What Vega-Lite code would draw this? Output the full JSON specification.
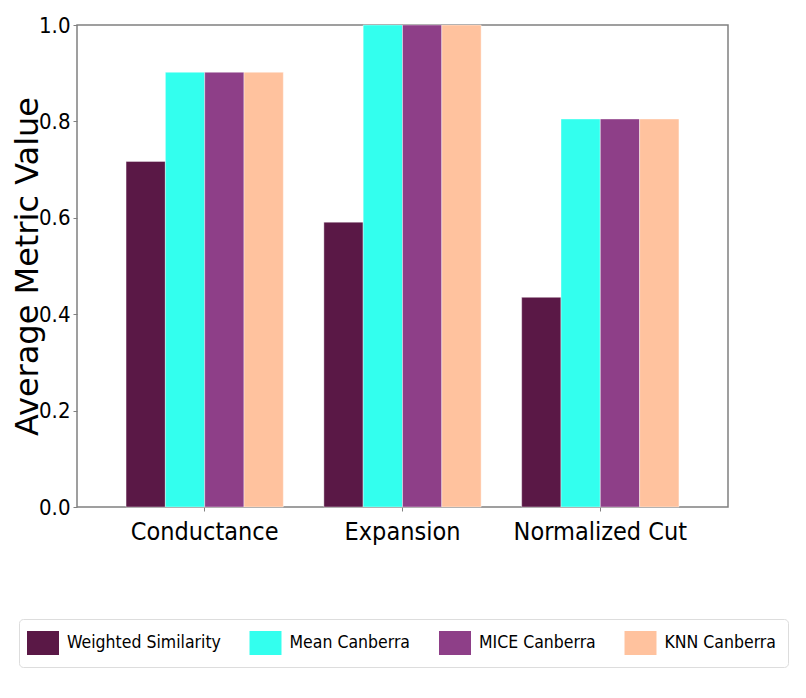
{
  "$schema": "https://vega.github.io/schema/vega-lite/v6.json",
  "autosize": {"type": "none"},
  "padding": {"left": 77, "top": 25, "right": 78, "bottom": 191},
  "width": 651,
  "height": 482,
  "data": {
    "values": [
      {"metric": "Conductance", "method": "Weighted Similarity", "value": 0.717},
      {"metric": "Conductance", "method": "Mean Canberra", "value": 0.902},
      {"metric": "Conductance", "method": "MICE Canberra", "value": 0.902},
      {"metric": "Conductance", "method": "KNN Canberra", "value": 0.902},
      {"metric": "Expansion", "method": "Weighted Similarity", "value": 0.591},
      {"metric": "Expansion", "method": "Mean Canberra", "value": 1.0},
      {"metric": "Expansion", "method": "MICE Canberra", "value": 1.0},
      {"metric": "Expansion", "method": "KNN Canberra", "value": 1.0},
      {"metric": "Normalized Cut", "method": "Weighted Similarity", "value": 0.435},
      {"metric": "Normalized Cut", "method": "Mean Canberra", "value": 0.805},
      {"metric": "Normalized Cut", "method": "MICE Canberra", "value": 0.805},
      {"metric": "Normalized Cut", "method": "KNN Canberra", "value": 0.805}
    ]
  },
  "mark": {"type": "bar", "stroke": "#ffffff", "strokeOpacity": 0.5, "strokeWidth": 0.8},
  "encoding": {
    "x": {
      "field": "metric",
      "type": "nominal",
      "sort": ["Conductance", "Expansion", "Normalized Cut"],
      "scale": {"paddingInner": 0.205, "paddingOuter": 0.248},
      "axis": {
        "title": null,
        "labelAngle": 0,
        "labelFont": "DejaVu Sans Condensed, Roboto Condensed, Liberation Sans Narrow, Roboto",
        "labelFontSize": 25,
        "labelColor": "#000000",
        "labelPadding": 8,
        "tickColor": "#808080",
        "tickSize": 4,
        "domain": false
      }
    },
    "xOffset": {
      "field": "method",
      "type": "nominal",
      "sort": ["Weighted Similarity", "Mean Canberra", "MICE Canberra", "KNN Canberra"],
      "scale": {"paddingInner": 0, "paddingOuter": 0}
    },
    "y": {
      "field": "value",
      "type": "quantitative",
      "scale": {"domain": [0, 1], "nice": false},
      "axis": {
        "title": "Average Metric Value",
        "titleFont": "DejaVu Sans",
        "titleFontSize": 32,
        "titleFontWeight": "normal",
        "titleColor": "#000000",
        "titleX": -50,
        "titleBaseline": "middle",
        "values": [0, 0.2, 0.4, 0.6, 0.8, 1.0],
        "format": ".1f",
        "grid": false,
        "labelFont": "DejaVu Sans Condensed, Roboto Condensed, Liberation Sans Narrow, Roboto",
        "labelFontSize": 22,
        "labelColor": "#000000",
        "labelPadding": 3,
        "tickColor": "#808080",
        "tickSize": 4,
        "domain": false
      }
    },
    "color": {
      "field": "method",
      "type": "nominal",
      "sort": ["Weighted Similarity", "Mean Canberra", "MICE Canberra", "KNN Canberra"],
      "scale": {
        "domain": ["Weighted Similarity", "Mean Canberra", "MICE Canberra", "KNN Canberra"],
        "range": ["#5A1846", "#33FFEE", "#8E3F88", "#FFC29E"]
      },
      "legend": {
        "title": null,
        "orient": "none",
        "legendX": -58,
        "legendY": 594,
        "direction": "horizontal",
        "columns": 4,
        "symbolType": "M-1.333,-1H1.333V1H-1.333Z",
        "symbolSize": 576,
        "symbolStrokeWidth": 0,
        "symbolOpacity": 1,
        "labelFont": "DejaVu Sans Condensed, Roboto Condensed, Liberation Sans Narrow, Roboto",
        "labelFontSize": 17.5,
        "labelLimit": 0,
        "labelColor": "#000000",
        "labelOffset": 12,
        "columnPadding": 28.5,
        "padding": 12,
        "strokeColor": "#dddddd",
        "fillColor": "#ffffff",
        "cornerRadius": 4
      }
    }
  },
  "config": {
    "view": {"stroke": "#808080", "strokeWidth": 1.5},
    "background": "#ffffff"
  }
}
